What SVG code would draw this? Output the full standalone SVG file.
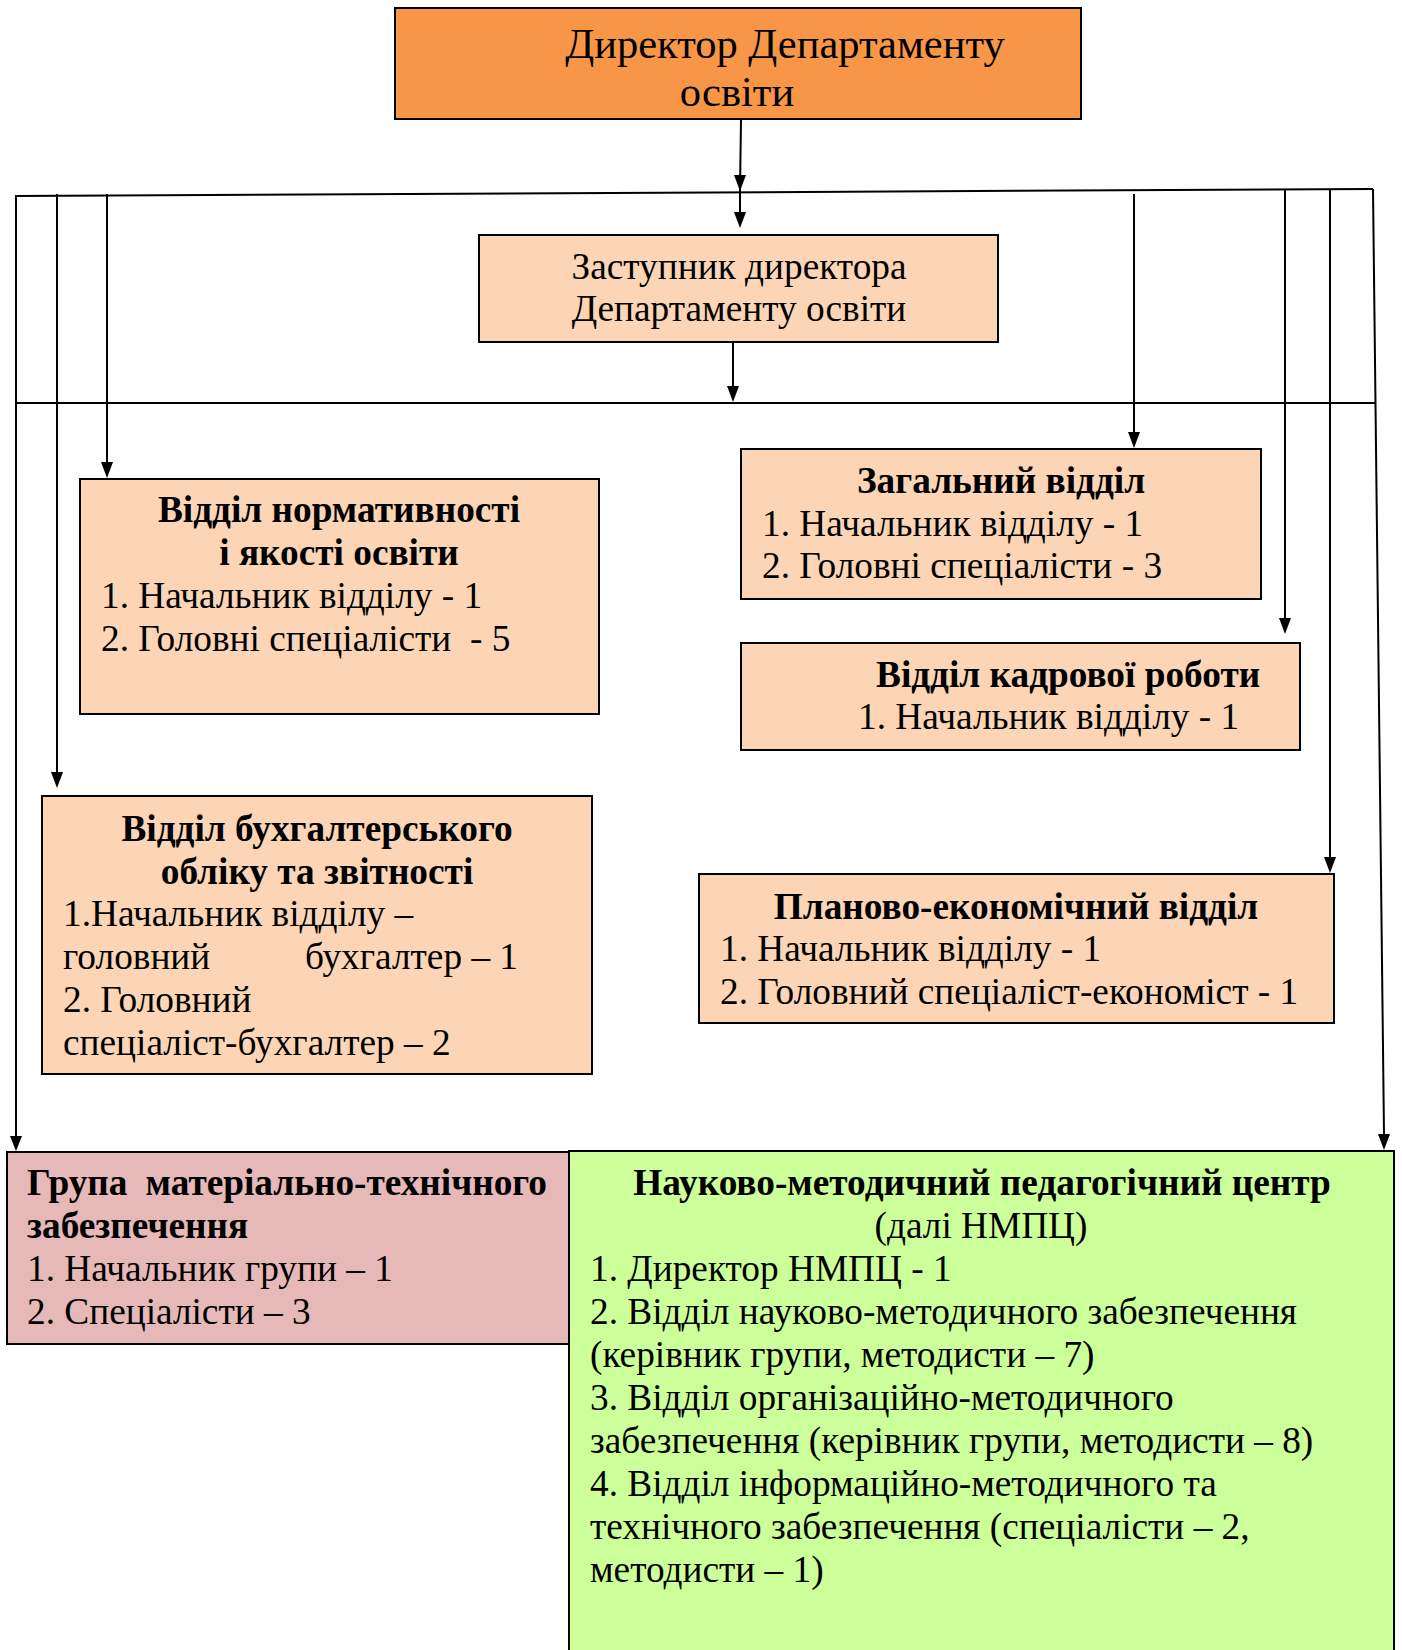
<svg xmlns="http://www.w3.org/2000/svg" width="1402" height="1650" viewBox="0 0 1402 1650">
<style>
.box{stroke:#000;stroke-width:2}
.dir{fill:#F79646}
.peach{fill:#FBD5B5}
.pink{fill:#E6B8B7}
.green{fill:#CCFF99}
text{font-family:"Liberation Serif","Times New Roman",serif;font-size:37.3px;fill:#000}
.b{font-weight:bold}
.m{text-anchor:middle}
.e{text-anchor:end}
.big{font-size:42.5px}
.ln{stroke:#000;stroke-width:2;fill:none}
</style>
<rect width="1402" height="1650" fill="#fff"/>

<g id="connectors">
<line class="ln" x1="15" y1="196" x2="1373" y2="189"/>
<line class="ln" x1="15" y1="403" x2="1375" y2="403"/>
<path class="ln" d="M741,120 L740,190"/>
<path d="M734,175 L746,175 L740,191 Z" fill="#000"/>
<path class="ln" d="M740,190 L740,212"/>
<path d="M734,212 L746,212 L740,228 Z" fill="#000"/>
<path class="ln" d="M733,342 L733,386"/>
<path d="M727,386 L739,386 L733,402 Z" fill="#000"/>
<path class="ln" d="M16,196 L16,1136"/>
<path d="M10,1136 L22,1136 L16,1151 Z" fill="#000"/>
<path class="ln" d="M57,194 L57,772"/>
<path d="M51,772 L63,772 L57,788 Z" fill="#000"/>
<path class="ln" d="M107,194 L107,462"/>
<path d="M101,462 L113,462 L107,478 Z" fill="#000"/>
<path class="ln" d="M1134,194 L1134,432"/>
<path d="M1128,432 L1140,432 L1134,448 Z" fill="#000"/>
<path class="ln" d="M1285,190 L1285,618"/>
<path d="M1279,618 L1291,618 L1285,634 Z" fill="#000"/>
<path class="ln" d="M1330,190 L1330,857"/>
<path d="M1324,857 L1336,857 L1330,873 Z" fill="#000"/>
<path class="ln" d="M1373,189 L1384,1134"/>
<path d="M1378,1134 L1390,1134 L1384,1150 Z" fill="#000"/>
</g>

<g id="director">
<rect class="box dir" x="395" y="8" width="686" height="111" stroke-width="3"/>
<text class="big m" x="785" y="58">Директор Департаменту</text>
<text class="big m" x="737" y="106">освіти</text>
</g>

<g id="deputy">
<rect class="box peach" x="479" y="235" width="519" height="107"/>
<text class="m" x="739" y="279">Заступник директора</text>
<text class="m" x="739" y="321">Департаменту освіти</text>
</g>

<g id="normative">
<rect class="box peach" x="80" y="479" width="519" height="235"/>
<text class="b m" x="339" y="522">Відділ нормативності</text>
<text class="b m" x="339" y="565">і якості освіти</text>
<text x="101" y="608">1. Начальник відділу - 1</text>
<text x="101" y="651" xml:space="preserve">2. Головні спеціалісти  - 5</text>
</g>

<g id="accounting">
<rect class="box peach" x="42" y="796" width="550" height="278"/>
<text class="b m" x="317" y="841">Відділ бухгалтерського</text>
<text class="b m" x="317" y="884">обліку та звітності</text>
<text x="63" y="926">1.Начальник відділу –</text>
<text x="63" y="969">головний</text>
<text class="e" x="518" y="969">бухгалтер – 1</text>
<text x="63" y="1012">2. Головний</text>
<text x="63" y="1055">спеціаліст-бухгалтер – 2</text>
</g>

<g id="general">
<rect class="box peach" x="741" y="449" width="520" height="150"/>
<text class="b m" x="1001" y="493">Загальний відділ</text>
<text x="762" y="536">1. Начальник відділу - 1</text>
<text x="762" y="578">2. Головні спеціалісти - 3</text>
</g>

<g id="personnel">
<rect class="box peach" x="741" y="643" width="559" height="107"/>
<text class="b" x="876" y="687">Відділ кадрової роботи</text>
<text x="858" y="729">1. Начальник відділу - 1</text>
</g>

<g id="planning">
<rect class="box peach" x="699" y="874" width="635" height="149"/>
<text class="b m" x="1016" y="919">Планово-економічний відділ</text>
<text x="720" y="961">1. Начальник відділу - 1</text>
<text x="720" y="1004">2. Головний спеціаліст-економіст - 1</text>
</g>

<g id="logistics">
<rect class="box pink" x="7" y="1152" width="562" height="192"/>
<text class="b" x="27" y="1195">Група</text>
<text class="b e" x="547" y="1195">матеріально-технічного</text>
<text class="b" x="27" y="1238">забезпечення</text>
<text x="27" y="1281">1. Начальник групи – 1</text>
<text x="27" y="1324">2. Спеціалісти – 3</text>
</g>

<g id="nmpc">
<rect class="box green" x="569" y="1151" width="825" height="520"/>
<text class="b m" x="982" y="1195">Науково-методичний педагогічний центр</text>
<text class="m" x="981" y="1238">(далі НМПЦ)</text>
<text x="590" y="1281">1. Директор НМПЦ - 1</text>
<text x="590" y="1324">2. Відділ науково-методичного забезпечення</text>
<text x="590" y="1367">(керівник групи, методисти – 7)</text>
<text x="590" y="1410">3. Відділ організаційно-методичного</text>
<text x="590" y="1453">забезпечення (керівник групи, методисти – 8)</text>
<text x="590" y="1496">4. Відділ інформаційно-методичного та</text>
<text x="590" y="1539">технічного забезпечення (спеціалісти – 2,</text>
<text x="590" y="1582">методисти – 1)</text>
</g>
</svg>
